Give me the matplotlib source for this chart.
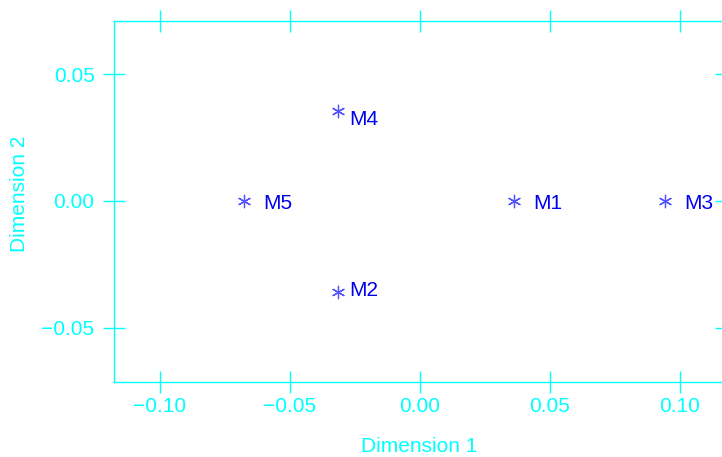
import matplotlib
matplotlib.use('Agg')
import matplotlib.pyplot as plt

plt.rcParams['font.family'] = ['Liberation Sans', 'DejaVu Sans']

# coordinates
names = ['M1', 'M2', 'M3', 'M4', 'M5']
dim1 = [0.0362, -0.0315, 0.0942, -0.0315, -0.0677]
dim2 = [0.0, -0.0358, 0.0, 0.0354, 0.0]

# label offsets in points
label_dx = [14, 8, 14, 8, 14]
label_dy = [-2, 1, -2, -6, -2]

axis_color = '#00ffff'

fig = plt.figure(figsize=(7.22, 4.57), dpi=100)
ax = fig.add_axes([114 / 722, 75 / 457, 612 / 722, 361 / 457])

ax.scatter(dim1, dim2, marker=(6, 2, 0), s=80, color='#5050ff', linewidths=0.9)
for x, y, name, dx, dy in zip(dim1, dim2, names, label_dx, label_dy):
    ax.annotate(name, (x, y), xytext=(dx, dy), textcoords='offset points',
                ha='left', va='center', color='#0000ee', fontsize=15)

ax.set_xlim(-0.1177, 0.1177)
ax.set_ylim(-0.0713, 0.0709)
ax.set_xticks([-0.10, -0.05, 0.00, 0.05, 0.10])
ax.set_yticks([-0.05, 0.00, 0.05])
ax.set_xticklabels(['\u22120.10', '\u22120.05', '0.00', '0.05', '0.10'])
ax.set_yticklabels(['\u22120.05', '0.00', '0.05'])

for sp in ax.spines.values():
    sp.set_color(axis_color)
    sp.set_linewidth(1.0)
ax.tick_params(direction='inout', length=16, width=1.0, color=axis_color,
               labelcolor=axis_color, labelsize=15, top=True, right=True)
ax.tick_params(axis='x', pad=3)
ax.tick_params(axis='y', pad=6)

fig.text(419.5 / 722, 1 - 446 / 457, 'Dimension 1', color=axis_color,
         fontsize=15, ha='center', va='center')
fig.text(20 / 722, 1 - 194 / 457, 'Dimension 2', color=axis_color,
         fontsize=15, ha='center', va='center', rotation=90)

fig.savefig('out.png', dpi=100)
